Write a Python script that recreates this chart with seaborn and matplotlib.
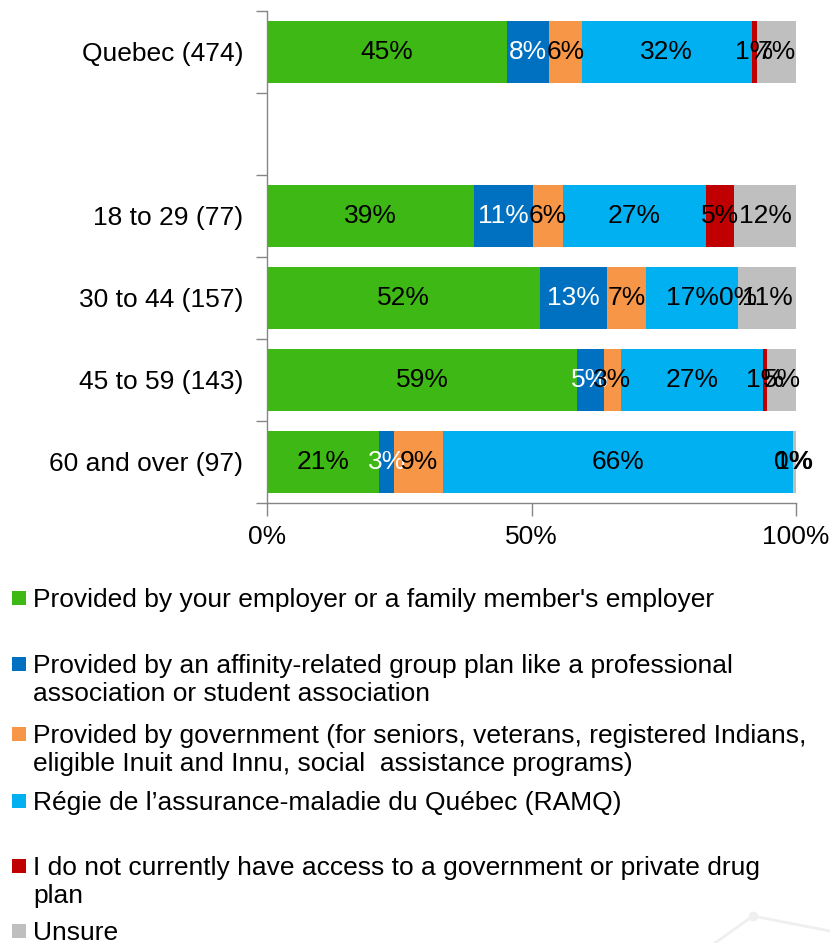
import numpy as np
import pandas as pd
import seaborn as sns
import matplotlib.pyplot as plt
from matplotlib.patches import Rectangle
from matplotlib.lines import Line2D

# categories (the blank entry is the empty slot between Quebec and the age groups)
order = ["Quebec (474)", " ", "18 to 29 (77)", "30 to 44 (157)", "45 to 59 (143)", "60 and over (97)"]
groups = ["Quebec (474)", "18 to 29 (77)", "30 to 44 (157)", "45 to 59 (143)", "60 and over (97)"]

# percentages per series
employer = [45.3, 39.2, 51.7, 58.6, 21.2]
affinity = [8.0, 11.0, 12.6, 5.1, 2.8]
government = [6.2, 5.7, 7.4, 3.2, 9.3]
ramq = [32.1, 27.1, 17.3, 26.8, 66.1]
no_access = [1.0, 5.3, 0.0, 0.9, 0.0]
unsure = [7.4, 11.7, 11.0, 5.4, 0.6]

series_names = ["employer", "affinity", "government", "ramq", "no_access", "unsure"]
colors = ["#3DB814", "#0070C0", "#F79646", "#00B0F0", "#C00000", "#BFBFBF"]
label_colors = ["black", "white", "black", "black", "black", "black"]

legend_labels = [
    "Provided by your employer or a family member's employer",
    "Provided by an affinity-related group plan like a professional\nassociation or student association",
    "Provided by government (for seniors, veterans, registered Indians,\neligible Inuit and Innu, social  assistance programs)",
    "Régie de l’assurance-maladie du Québec (RAMQ)",
    "I do not currently have access to a government or private drug\nplan",
    "Unsure",
]

df = pd.DataFrame({"group": groups, "employer": employer, "affinity": affinity,
                   "government": government, "ramq": ramq,
                   "no_access": no_access, "unsure": unsure})
cum = df[series_names].cumsum(axis=1)
cum["group"] = df["group"]

sns.set_style("white")
plt.rcParams["font.family"] = ["Liberation Sans", "DejaVu Sans"]
plt.rcParams["text.color"] = "black"
plt.rcParams["xtick.labelcolor"] = "black"
plt.rcParams["ytick.labelcolor"] = "black"
fs = 19
gray = "#868686"

W, H = 830, 943
fig = plt.figure(figsize=(W / 100, H / 100), dpi=100)
ax = fig.add_axes([267 / W, 1 - 503 / H, (796 - 267) / W, (503 - 11) / H])

# stacked bars: draw cumulative totals from the outermost series inwards
for name, col in zip(reversed(series_names), reversed(colors)):
    sns.barplot(data=cum, x=name, y="group", order=order, orient="h", color=col,
                saturation=1, width=0.756, errorbar=None, linewidth=0, ax=ax)

# segment labels
for i, g in enumerate(groups):
    ypos = order.index(g)
    for name, lc in zip(series_names, label_colors):
        v = df.loc[i, name]
        c = cum.loc[i, name] - v / 2
        ax.text(c, ypos, f"{round(v)}%", ha="center", va="center",
                fontsize=fs, color=lc)

ax.set_xlim(0, 100)
ax.set_ylim(5.5, -0.5)
ax.set_xlabel("")
ax.set_ylabel("")
ax.set_xticks([0, 50, 100])
ax.set_xticklabels(["0%", "50%", "100%"], fontsize=fs)
ax.set_yticks(range(len(order)))
ax.set_yticklabels(order, fontsize=fs)
ax.set_yticks(np.arange(-0.5, len(order), 1), minor=True)
ax.tick_params(axis="y", which="major", length=0, pad=17)
ax.tick_params(axis="y", which="minor", length=8, width=1, color=gray, left=True)
ax.tick_params(axis="x", length=9, width=1, color=gray, pad=7, bottom=True)
for s in ["top", "right"]:
    ax.spines[s].set_visible(False)
for s in ["left", "bottom"]:
    ax.spines[s].set_color(gray)
    ax.spines[s].set_linewidth(1)

# legend drawn by hand to keep Excel's spacing
row_centers = [598, 664, 734, 801, 866, 931]
for lab, col, yc in zip(legend_labels, colors, row_centers):
    fig.add_artist(Rectangle((12 / W, 1 - (yc + 7) / H), 14 / W, 14 / H,
                             transform=fig.transFigure, color=col, lw=0))
    for k, line in enumerate(lab.split("\n")):
        fig.text(33 / W, 1 - (yc + 9 + 28 * k) / H, line, fontsize=fs,
                 ha="left", va="baseline")

# faint decoration bottom right
fig.add_artist(Line2D([715 / W, 753 / W, 830 / W], [0, 1 - 916 / H, 1 - 931 / H],
                      transform=fig.transFigure, color="#EFEFEF", lw=2))
fig.add_artist(Line2D([753 / W], [1 - 916 / H], transform=fig.transFigure,
                      marker="o", ms=6, color="#EFEFEF", lw=0))

fig.savefig("out.png", dpi=100)
